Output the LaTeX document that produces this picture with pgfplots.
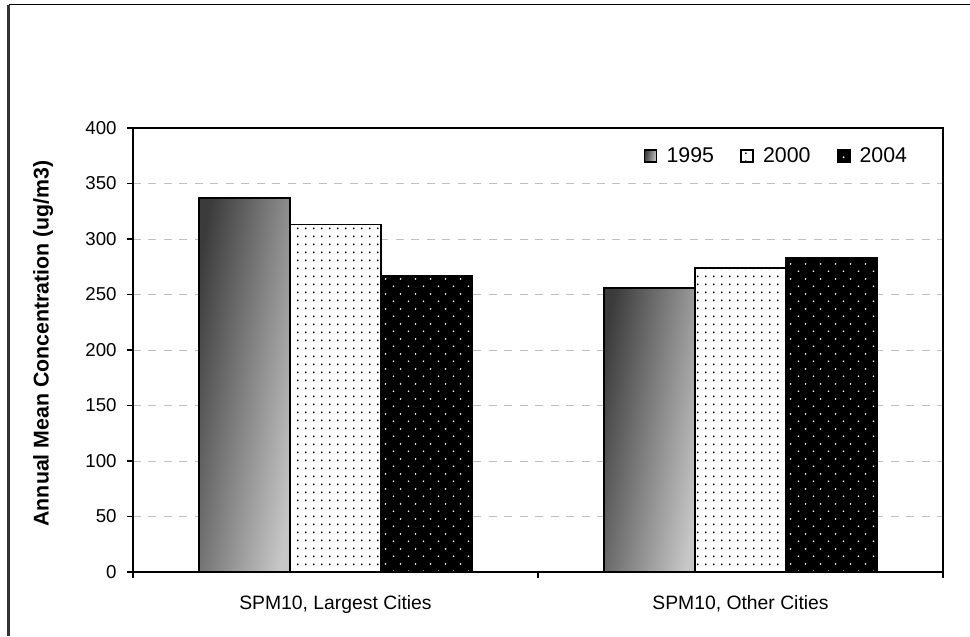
\documentclass[border=0pt]{standalone}
\usepackage{fontspec}
\setmainfont{Liberation Sans}
\usepackage{pgfplots}
\pgfplotsset{compat=1.18}
\usetikzlibrary{patterns.meta}
\tikzdeclarepattern{
  name=griddots,
  type=uncolored,
  bounding box={(0pt,0pt) and (5.8pt,5.7pt)},
  tile size={(5.8pt,5.7pt)},
  code={
    \pgfpathcircle{\pgfpoint{2.9pt}{2.85pt}}{0.72pt}
    \pgfusepath{fill}
  }
}
\tikzdeclarepattern{
  name=stagdots,
  type=uncolored,
  bounding box={(0pt,0pt) and (11.25pt,11.5pt)},
  tile size={(11.25pt,11.5pt)},
  code={
    \pgfpathcircle{\pgfpoint{2.8pt}{2.9pt}}{0.72pt}
    \pgfpathcircle{\pgfpoint{8.4pt}{8.65pt}}{0.72pt}
    \pgfusepath{fill}
  }
}
\pgfplotstableread{
x  y1995 y2000 y2004
0  337   313   267
1  256   274   283
}\datatable
\begin{document}
\begin{tikzpicture}
\useasboundingbox (0,0) rectangle (727.5pt,477pt);
\draw[line width=1.8pt, color=black!80] (6.5pt,0pt) -- (6.5pt,473.5pt);
\draw[line width=1.2pt, color=black] (6.5pt,473.5pt) -- (727.5pt,473.5pt);
\begin{axis}[
  at={(99.75pt,48pt)}, anchor=south west,
  scale only axis, width=607.5pt, height=333pt,
  ybar, bar width=0.225,
  xmin=-0.5, xmax=1.5, ymin=0, ymax=400,
  ytick={0,50,...,400},
  ymajorgrids,
  grid style={color=black!25, line width=0.75pt, dash pattern=on 6pt off 5.6pt},
  axis line style={line width=1.3pt},
  tick style={black, line width=0.9pt},
  tick align=outside, major tick length=4.5pt,
  xtick pos=bottom, ytick pos=left,
  xtick={-0.5,0.5,1.5}, xticklabels={},
  extra x ticks={0,1},
  extra x tick labels={{SPM10, Largest Cities},{SPM10, Other Cities}},
  extra x tick style={major tick length=0pt},
  xticklabel style={yshift=-14pt, font=\fontsize{14.5}{16}\selectfont},
  yticklabel style={xshift=-4.3pt, font=\fontsize{14}{16}\selectfont},
  /pgf/number format/assume math mode=true,
  ylabel={Annual Mean Concentration (ug/m3)},
  every axis y label/.style={at={(axis description cs:-0.111,0.515)}, rotate=90, anchor=center,
    font=\bfseries\fontsize{16}{18}\selectfont},
  legend style={at={(axis description cs:0.795,0.937)}, anchor=center, draw=none, fill=none,
    font=\fontsize{16}{18}\selectfont,
    /tikz/every odd column/.append style={column sep=5pt},
    /tikz/every even column/.append style={column sep=18pt}},
  legend columns=3,
  legend image code/.code={\draw[#1, line width=0.8pt] (0pt,-4.5pt) rectangle (9pt,4.5pt);},
  s1995/.style={draw=black, line width=1.3pt, bar shift=-0.225, shading=axis,
    top color=black!77, bottom color=black!22, shading angle=80},
  s2000/.style={draw=black, line width=1.3pt, bar shift=0, preaction={fill=white},
    pattern=griddots, pattern color=black},
  s2004/.style={draw=black, line width=1.3pt, bar shift=0.225, preaction={fill=black},
    pattern=stagdots, pattern color=white},
]
\addplot[s1995] coordinates {(0,337)};
\addplot[s2000] table[x=x, y=y2000] {\datatable};
\addplot[s2004] table[x=x, y=y2004] {\datatable};
\addplot[s1995, forget plot] coordinates {(1,256)};
\legend{1995,2000,2004}
\end{axis}
\end{tikzpicture}
\end{document}
